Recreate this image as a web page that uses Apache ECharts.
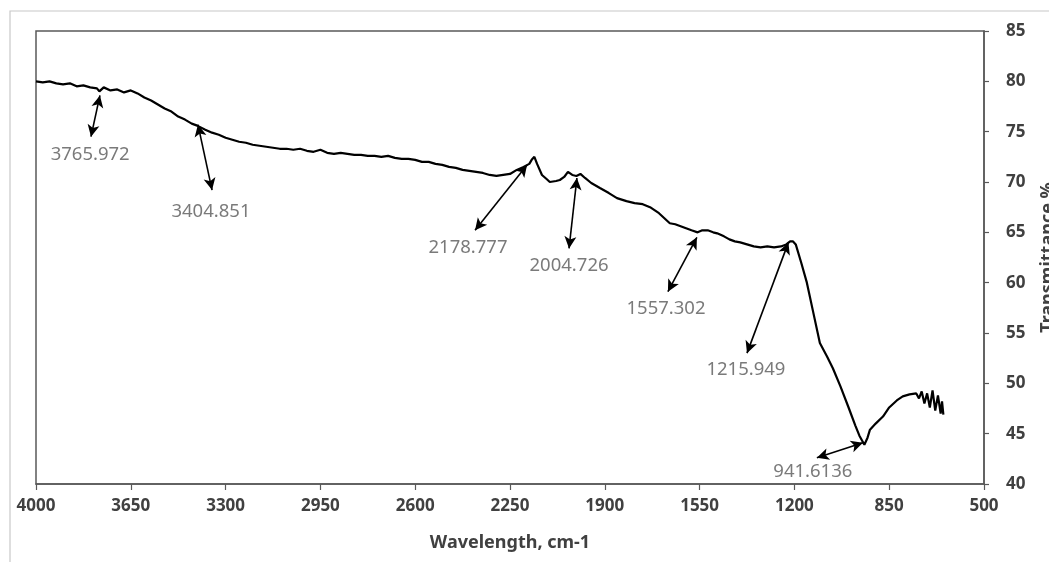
<!DOCTYPE html>
<html><head><meta charset="utf-8">
<script src="https://cdn.jsdelivr.net/npm/echarts@6/dist/echarts.min.js"></script>
<style>html,body{margin:0;padding:0;background:#fff}#c{width:1049px;height:562px}</style>
</head><body><div id="c"></div>
<script>
// Spectrum data (wavenumber, transmittance %)
var waveNumbers = [4000,3975,3950,3925,3900,3875,3850,3825,3800,3775,3765.972,3750,3725,3700,3675,3650,3625,3600,3575,3550,3525,3500,3475,3450,3425,3404.851,3375,3350,3325,3300,3275,3250,3225,3200,3175,3150,3125,3100,3075,3050,3025,3000,2975,2950,2925,2900,2875,2850,2825,2800,2775,2750,2725,2700,2675,2650,2625,2600,2575,2550,2525,2500,2475,2450,2425,2400,2375,2350,2325,2300,2275,2250,2225,2200,2178.777,2170,2160,2150,2132,2115,2103,2080,2066,2050,2036,2020,2004.726,1990,1973,1950,1918,1885,1855,1820,1790,1760,1733,1700,1680,1660,1640,1620,1600,1580,1557.302,1540,1520,1500,1485,1460,1440,1420,1400,1375,1350,1325,1300,1275,1250,1230,1215.949,1205,1195,1175,1154,1130,1106,1080,1058,1030,1000,975,960,941.6136,930,921,900,873,850,822,800,775,750,740,730,720,710,700,690,680,670,660,655,650];
var transmittance = [80.0,79.9,80.0,79.8,79.7,79.8,79.5,79.6,79.4,79.3,79.0,79.4,79.1,79.2,78.9,79.1,78.8,78.4,78.1,77.7,77.3,77.0,76.5,76.2,75.8,75.6,75.2,74.9,74.7,74.4,74.2,74.0,73.9,73.7,73.6,73.5,73.4,73.3,73.3,73.2,73.3,73.1,73.0,73.2,72.9,72.8,72.9,72.8,72.7,72.7,72.6,72.6,72.5,72.6,72.4,72.3,72.3,72.2,72.0,72.0,71.8,71.7,71.5,71.4,71.2,71.1,71.0,70.9,70.7,70.6,70.7,70.8,71.2,71.5,71.8,72.2,72.5,71.8,70.7,70.3,70.0,70.1,70.2,70.5,71.0,70.7,70.6,70.8,70.4,69.9,69.4,68.9,68.4,68.1,67.9,67.8,67.5,66.9,66.4,65.9,65.8,65.6,65.4,65.2,65.0,65.2,65.2,65.0,64.9,64.6,64.3,64.1,64.0,63.8,63.6,63.5,63.6,63.5,63.6,63.8,64.1,64.1,63.8,62.0,60.0,57.0,54.0,52.7,51.5,49.7,47.6,45.8,44.8,43.9,44.6,45.4,46.0,46.7,47.6,48.3,48.7,48.9,49.0,48.5,49.2,48.0,49.0,47.6,49.3,47.3,48.8,47.0,48.2,46.9];

// Tick values
var xTicks = [500,850,1200,1550,1900,2250,2600,2950,3300,3650,4000];
var yTicks = [40,45,50,55,60,65,70,75,80,85];

// Peak annotations: label text, arrow head near curve, arrow tail, label anchor (data coords)
var annText   = ['3765.972','3404.851','2178.777','2004.726','1557.302','1215.949','941.6136'];
var annTipW   = [3764, 3402, 2187, 2003, 1560, 1222, 947];
var annTipT   = [78.6, 75.7, 71.7, 70.4, 64.5, 64.0, 44.1];
var annTailW  = [3797, 3350, 2379, 2032, 1667, 1375, 1117];
var annTailT  = [74.5, 69.2, 65.2, 63.4, 59.1, 53.0, 42.6];
var annLabelW = [3800, 3354, 2405, 2032, 1674, 1379, 1132];
var annLabelT = [72.7, 67.0, 63.5, 61.7, 57.4, 51.4, 41.2];

var lineData = waveNumbers.map(function(w,i){return [w, transmittance[i]];});
var markData = annText.map(function(t,i){
  return [{coord:[annTipW[i], annTipT[i]]},{coord:[annTailW[i], annTailT[i]]}];
});
var labelData = annText.map(function(t,i){return {value:[annLabelW[i], annLabelT[i]], name:t};});

var chart = echarts.init(document.getElementById('c'));
chart.setOption({
  animation:false,
  graphic:[{type:'rect',shape:{x:10,y:11,width:1200,height:700},style:{fill:'none',stroke:'#c8c8c8',lineWidth:1.2},silent:true}],
  grid:{left:36,right:65,top:31,bottom:78,containLabel:false,outerBoundsMode:'none',show:true,borderColor:'#595959',borderWidth:1.5,backgroundColor:'transparent'},
  xAxis:{
    type:'value',inverse:true,min:xTicks[0],max:xTicks[xTicks.length-1],interval:350,
    name:'Wavelength, cm-1',nameLocation:'middle',nameGap:50,
    nameTextStyle:{fontFamily:'Noto Sans',fontSize:18,fontWeight:'bold',color:'#404040'},
    axisLine:{show:true,lineStyle:{color:'#595959',width:1.5}},
    axisTick:{show:true,length:6,lineStyle:{color:'#595959',width:1.2}},
    axisLabel:{margin:14,fontFamily:'Noto Sans',fontSize:17,fontWeight:'bold',color:'#404040',
      formatter:function(v){return String(v);}},
    splitLine:{show:false}
  },
  yAxis:{
    type:'value',position:'right',min:yTicks[0],max:yTicks[yTicks.length-1],interval:5,
    name:'Transmittance %',nameLocation:'middle',nameGap:55,nameRotate:90,
    nameTextStyle:{fontFamily:'Noto Sans',fontSize:18,fontWeight:'bold',color:'#404040'},
    axisLine:{show:true,lineStyle:{color:'#595959',width:1.5}},
    axisTick:{show:true,inside:false,length:5,lineStyle:{color:'#595959',width:1.2}},
    axisLabel:{margin:22,fontFamily:'Noto Sans',fontSize:17,fontWeight:'bold',color:'#404040',
      formatter:function(v){return String(v);}},
    splitLine:{show:false}
  },
  series:[
    {type:'line',data:lineData,showSymbol:false,symbol:'none',
     lineStyle:{color:'#000',width:2.2},
     markLine:{silent:true,symbol:['arrow','arrow'],symbolSize:[9,12],
       label:{show:false},lineStyle:{color:'#000',width:1.6,type:'solid'},
       emphasis:{disabled:true},data:markData}},
    {type:'scatter',data:labelData,symbolSize:0,silent:true,
     label:{show:true,position:'inside',formatter:function(p){return p.name;},
       fontFamily:'Noto Sans',fontSize:18.5,color:'#595959'}}
  ]
});
</script></body></html>
